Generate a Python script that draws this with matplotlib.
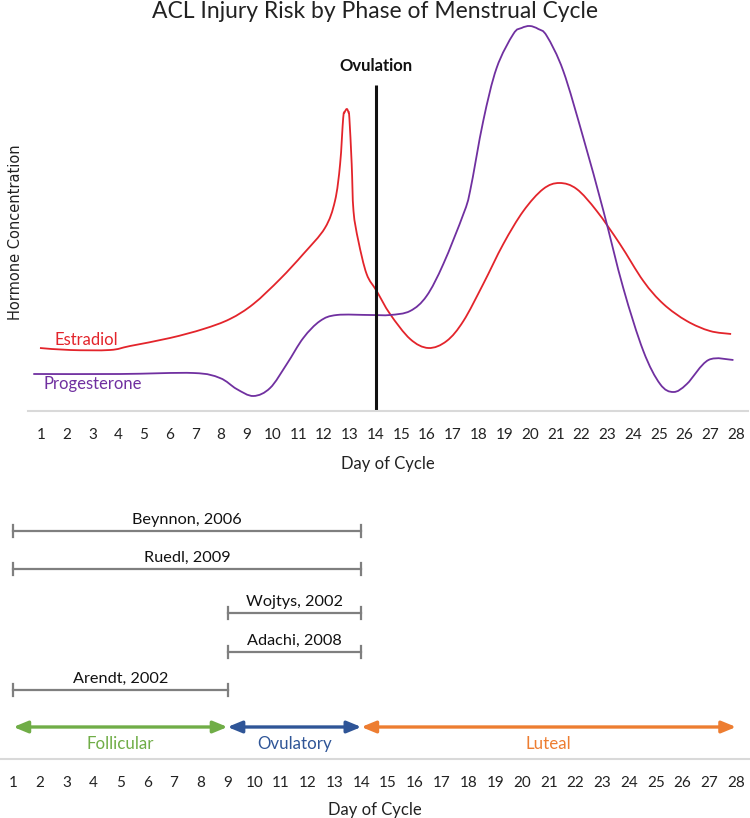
import matplotlib
matplotlib.use("Agg")
import matplotlib.pyplot as plt
from matplotlib.path import Path
from matplotlib.patches import PathPatch

# hormone curves (day of cycle, relative level)
estradiol_day = [0.96, 2.13, 3.68, 4.46, 6.01, 7.31, 8.34, 9.25, 10.29, 11.19, 12.03,
                 12.42, 12.62, 12.74, 12.80, 12.88, 12.94, 12.98, 13.07, 13.14, 13.33,
                 13.65, 14.04, 14.56, 15.34, 16.05, 16.76, 17.41, 18.18, 18.96, 19.74,
                 20.51, 21.14, 21.81, 22.59, 23.49, 24.4, 25.18, 26.09, 26.99, 27.81]
estradiol_level = [63, 61, 61, 65, 73, 82, 92, 107, 132, 157, 183,
                   210, 247, 293, 299, 302, 299, 293, 247, 200, 170,
                   137, 120, 97, 72, 63, 70, 90, 127, 167, 200,
                   222, 228, 222, 200, 167, 130, 107, 90, 80, 77]

progesterone_day = [0.70, 4.07, 6.92, 7.95, 8.6, 9.25, 9.9, 10.55, 11.19, 11.84, 12.49,
                    13.78, 14.56, 15.34, 15.98, 16.63, 17.41, 17.67, 18.18, 18.7, 19.35,
                    19.67, 19.99, 20.32, 20.65, 21.29, 22.07, 22.85, 23.62, 24.4, 25.05,
                    25.57, 26.09, 26.93, 27.9]
progesterone_level = [37, 37, 38, 33, 22, 15, 23, 47, 73, 90, 96,
                      96, 96, 100, 115, 147, 197, 220, 290, 343, 377,
                      383, 385, 382, 375, 340, 273, 200, 123, 60, 27,
                      19, 27, 51, 51]

ovulation_day = 14
days = list(range(1, 29))

# studies reporting higher ACL injury risk, by cycle window
study_names = ["Beynnon, 2006", "Ruedl, 2009", "Wojtys, 2002", "Adachi, 2008", "Arendt, 2002"]
study_start = [1, 1, 9, 9, 1]
study_end = [14, 14, 14, 14, 9]

phase_names = ["Follicular", "Ovulatory", "Luteal"]
phase_start = [1, 9, 14]
phase_end = [9, 14, 28]
phase_colors = ["#70AD47", "#2F5597", "#ED7D31"]


def smooth_path(xs, ys):
    # Catmull-Rom through the read points, drawn as cubic Bezier segments
    pts = list(zip(xs, ys))
    n = len(pts)
    verts = [pts[0]]
    codes = [Path.MOVETO]
    for i in range(n - 1):
        p0 = pts[i - 1] if i > 0 else pts[i]
        p1 = pts[i]
        p2 = pts[i + 1]
        p3 = pts[i + 2] if i + 2 < n else pts[i + 1]
        c1 = (p1[0] + (p2[0] - p0[0]) / 6, p1[1] + (p2[1] - p0[1]) / 6)
        c2 = (p2[0] - (p3[0] - p1[0]) / 6, p2[1] - (p3[1] - p1[1]) / 6)
        verts += [c1, c2, p2]
        codes += [Path.CURVE4] * 3
    return Path(verts, codes)


plt.rcParams["font.family"] = ["Lato", "DejaVu Sans"]

fig = plt.figure(figsize=(7.5, 8.18), dpi=100)
W, H = 750, 818

# ---- top panel: hormone levels ----
ax = fig.add_axes([28 / W, (H - 411) / H, 720 / W, 391 / H])
ax.add_patch(PathPatch(smooth_path(estradiol_day, estradiol_level), fc="none",
                       ec="#E3242B", lw=1.3))
ax.add_patch(PathPatch(smooth_path(progesterone_day, progesterone_level), fc="none",
                       ec="#7030A0", lw=1.3))
ax.vlines(ovulation_day, 0, 326, color="#111111", lw=2.2)
ax.text(ovulation_day, 345, "Ovulation", ha="center", va="center", fontsize=12,
        fontweight="bold", color="#111111")
ax.text(1.54, 71, "Estradiol", color="#E3242B", fontsize=12, va="center")
ax.text(1.08, 27, "Progesterone", color="#7030A0", fontsize=12, va="center")

ax.set_xlim(0.495, 28.466)
ax.set_ylim(0, 391)
ax.set_xticks(days)
ax.set_yticks([])
ax.tick_params(axis="x", length=0, pad=12, labelsize=11, labelcolor="#222222")
for s in ["top", "right", "left"]:
    ax.spines[s].set_visible(False)
ax.spines["bottom"].set_color("#D9D9D9")
ax.spines["bottom"].set_linewidth(1.5)
ax.set_xlabel("Day of Cycle", fontsize=12, labelpad=10, color="#222222")
ax.set_ylabel("Hormone Concentration", fontsize=10.5, family="DejaVu Sans",
              color="#222222", va="center")
ax.yaxis.set_label_coords(-0.018, 0.458)
fig.text(0.5, 1 - 12 / H, "ACL Injury Risk by Phase of Menstrual Cycle",
         ha="center", va="center", fontsize=16.5, color="#222222")

# ---- bottom panel: studies and phases ----
bx = fig.add_axes([0, 59 / H, 1, 259 / H])
bx.set_xlim(0.5, 28.52)
bx.set_ylim(0, 259)
row_y = [228, 190, 146, 107, 69]
for name, a, b, y in zip(study_names, study_start, study_end, row_y):
    bx.plot([a, b], [y, y], color="#7F7F7F", lw=1.6)
    bx.plot([a, a], [y - 6, y + 6], color="#7F7F7F", lw=1.6)
    bx.plot([b, b], [y - 6, y + 6], color="#7F7F7F", lw=1.6)
    bx.text((a + b) / 2, y + 7, name, ha="center", va="baseline", fontsize=11.7, color="#111111")

arrow_y = 32
for name, a, b, c in zip(phase_names, phase_start, phase_end, phase_colors):
    bx.annotate("", xy=(b, arrow_y), xytext=(a, arrow_y),
                arrowprops=dict(arrowstyle="<|-|>,head_length=0.85,head_width=0.35",
                                color=c, lw=2.4, mutation_scale=10,
                                shrinkA=0, shrinkB=0))
    bx.text((a + b) / 2, arrow_y - 17, name, ha="center", va="center", fontsize=12.2, color=c)

bx.set_xticks(days)
bx.set_yticks([])
bx.tick_params(axis="x", length=0, pad=12, labelsize=11, labelcolor="#222222")
for s in ["top", "right", "left"]:
    bx.spines[s].set_visible(False)
bx.spines["bottom"].set_color("#D9D9D9")
bx.spines["bottom"].set_linewidth(1.5)
bx.set_xlabel("Day of Cycle", fontsize=12, labelpad=9, color="#222222")

fig.savefig("out.png", dpi=100)
